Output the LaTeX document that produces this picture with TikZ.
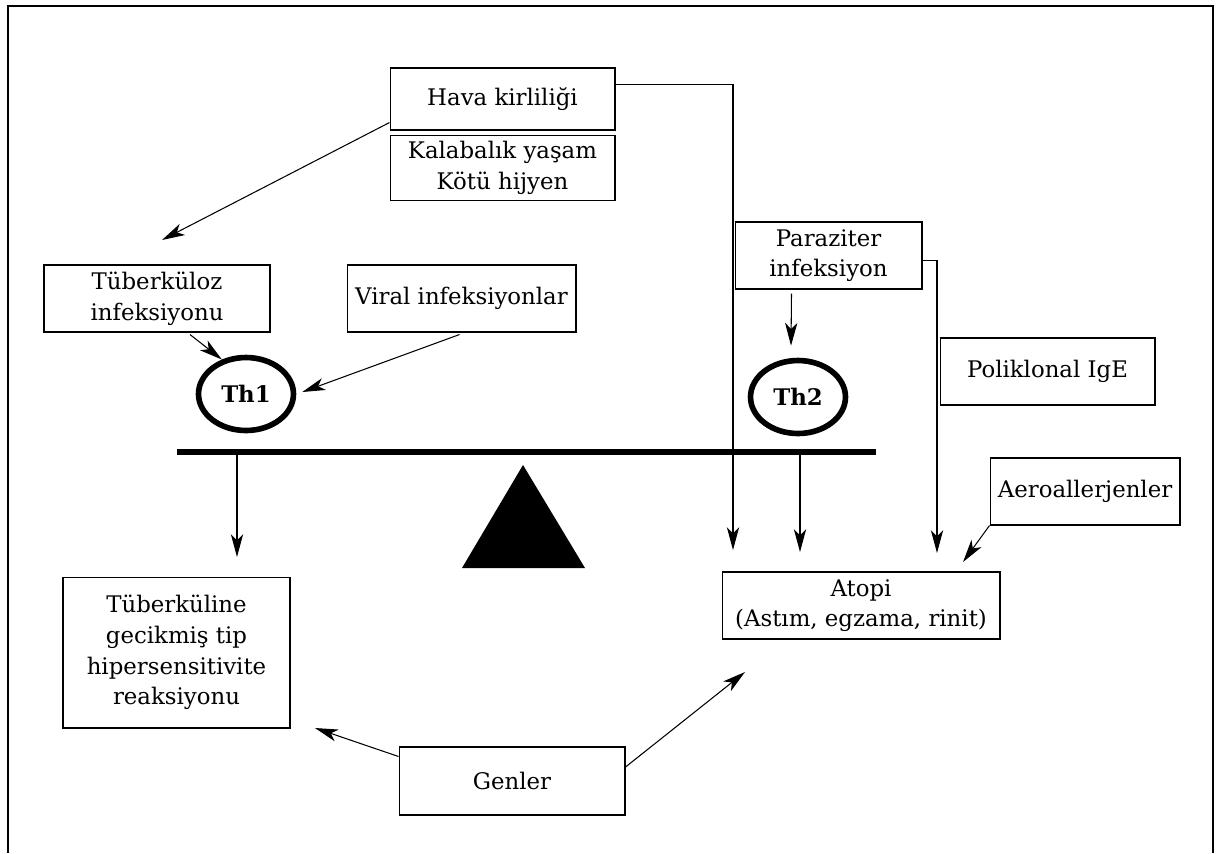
\documentclass[tikz,border=0pt]{standalone}
\usepackage{fontspec}
\setmainfont{DejaVu Serif}
\usetikzlibrary{arrows.meta,calc,shapes.geometric}
\begin{document}
\begin{tikzpicture}[x=0.02cm,y=-0.02cm,
  txt/.style={font=\fontsize{13}{17.5}\selectfont},
  box/.style={txt,draw,line width=0.6pt,align=center,inner sep=0pt},
  th/.style={draw,ellipse,line width=3.2pt,minimum width=1.9cm,minimum height=1.46cm,inner sep=0pt,font=\fontsize{13}{16}\selectfont\bfseries},
  arr/.style={line width=0.6pt,-{Stealth[length=13pt,width=7pt,inset=3.5pt]}},
  ln/.style={line width=0.6pt},
  beam/.style={line width=3.6pt}]
\useasboundingbox (0,0) rectangle (1216,853);
% frame
\draw[ln] (8,853) -- (8,6) -- (1213,6) -- (1213,853);
% boxes
\node[box,minimum width=4.5cm,minimum height=1.24cm] (hava) at (502.5,99) {Hava kirliliği};
\node[box,minimum width=4.5cm,minimum height=1.3cm] (kalab) at (502.5,168) {Kalabalık yaşam\\Kötü hijyen};
\node[box,minimum width=4.52cm,minimum height=1.34cm] (tub) at (157,298.5) {Tüberküloz\\infeksiyonu};
\node[box,minimum width=4.58cm,minimum height=1.34cm] (viral) at (461.5,298.5) {Viral infeksiyonlar};
\node[box,minimum width=3.74cm,minimum height=1.34cm] (para) at (828.5,255.5) {Paraziter\\infeksiyon};
\node[box,minimum width=4.3cm,minimum height=1.34cm] (poli) at (1047.5,371.5) {Poliklonal IgE};
\node[box,minimum width=3.8cm,minimum height=1.34cm] (aero) at (1085,491.5) {Aeroallerjenler};
\node[box,minimum width=5.56cm,minimum height=1.34cm] (atopi) at (861,605.5) {Atopi\\(Astım, egzama, rinit)};
\node[box,minimum width=4.54cm,minimum height=3.02cm] (tubline) at (176.5,652.5) {Tüberküline\\gecikmiş tip\\hipersensitivite\\reaksiyonu};
\node[box,minimum width=4.52cm,minimum height=1.36cm] (genler) at (512,781) {Genler};
% Th ellipses
\node[th] (th1) at (246,394) {Th1};
\node[th] (th2) at (798,397) {Th2};
% balance
\coordinate (barL) at (177,452);
\coordinate (barR) at (876,452);
\draw[beam] (barL) -- (barR);
\fill (523,465) -- (585,568) -- (462,568) -- cycle;
% free ends
\coordinate (tubtip) at (162,240);
\coordinate (havadown) at (733,550);
\coordinate (paradown) at (937,553);
\coordinate (th1down) at (237,557);
\coordinate (th2down) at (800,552);
\coordinate (aerotip) at (963,562);
\coordinate (gentip1) at (315,728);
\coordinate (gentip2) at (745,672);
% connectors
\draw[arr] ($(hava.south west)+(0,-8)$) -- (tubtip);
\draw[arr] ($(tub.south)+(33,2)$) -- (th1.125);
\draw[arr] ($(viral.south)+(-2,2)$) -- ($(th1.east)+(6,-2)$);
\draw[arr] ($(para.south)+(-37,4)$) -- ($(th2.north)+(-7,-12)$);
\draw[arr] ($(hava.north east)+(0,17)$) -| (havadown);
\draw[arr] ($(para.east)+(0,5)$) -| (paradown);
\draw[arr] (barL -| th1down) -- (th1down);
\draw[arr] (barL -| th2down) -- (th2down);
\draw[arr] (aero.south west) -- (aerotip);
\draw[arr] ($(genler.north west)+(0,10)$) -- (gentip1);
\draw[arr] ($(genler.east)+(0,-14)$) -- (gentip2);
\end{tikzpicture}
\end{document}
